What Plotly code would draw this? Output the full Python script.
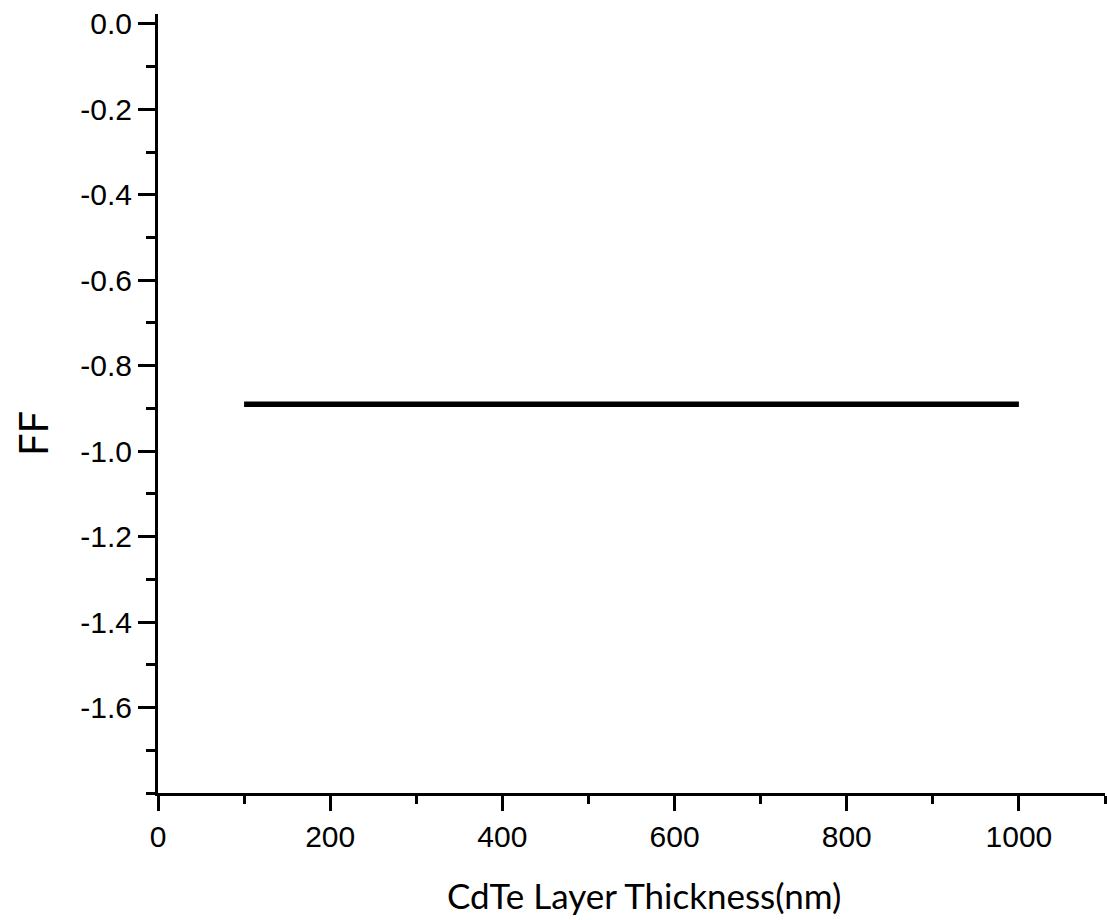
import plotly.graph_objects as go

# CdTe absorber thickness sweep (nm) and resulting fill factor
thickness_nm = [100, 200, 300, 400, 500, 600, 700, 800, 900, 1000]
fill_factor = [-0.89, -0.89, -0.89, -0.89, -0.89, -0.89, -0.89, -0.89, -0.89, -0.89]

x_tick_vals = [0, 200, 400, 600, 800, 1000]
x_tick_text = ["0", "200", "400", "600", "800", "1000"]
y_tick_vals = [0.0, -0.2, -0.4, -0.6, -0.8, -1.0, -1.2, -1.4, -1.6]
y_tick_text = ["0.0", "-0.2", "-0.4", "-0.6", "-0.8", "-1.0", "-1.2", "-1.4", "-1.6"]

fig = go.Figure()
fig.add_trace(go.Scatter(
    x=thickness_nm, y=fill_factor, mode="lines",
    line=dict(color="black", width=5.5),
    showlegend=False,
))

tick_font = dict(family="Liberation Sans, Arial, sans-serif", size=30, color="black")
title_family = "Lato, Open Sans, sans-serif"

fig.update_layout(
    width=1107, height=920,
    margin=dict(l=158, r=2, t=14, b=127),
    paper_bgcolor="white", plot_bgcolor="white",
    xaxis=dict(
        range=[0, 1100],
        tickmode="array", tickvals=x_tick_vals, ticktext=x_tick_text,
        ticks="outside", ticklen=15, tickwidth=3, tickcolor="black",
        minor=dict(dtick=100, tick0=0, ticks="outside", ticklen=8, tickwidth=3, tickcolor="black", showgrid=False),
        showline=True, linewidth=3, linecolor="black",
        showgrid=False, zeroline=False,
        tickfont=tick_font,
    ),
    yaxis=dict(
        range=[-1.8, 0.023],
        tickmode="array", tickvals=y_tick_vals, ticktext=y_tick_text,
        ticks="outside", ticklen=17, tickwidth=3, tickcolor="black",
        minor=dict(dtick=0.1, tick0=0, ticks="outside", ticklen=9, tickwidth=3, tickcolor="black", showgrid=False),
        showline=True, linewidth=3, linecolor="black",
        showgrid=False, zeroline=False,
        tickfont=tick_font,
    ),
    annotations=[
        dict(text="CdTe Layer Thickness(nm)", xref="paper", yref="paper",
             x=(644 - 158) / (1105 - 158), y=-(895 - 793) / (793 - 14),
             xanchor="center", yanchor="middle", showarrow=False,
             font=dict(family=title_family, size=35, color="black")),
        dict(text="FF", xref="paper", yref="paper",
             x=-(158 - 33) / (1105 - 158), y=(793 - 434) / (793 - 14),
             xanchor="center", yanchor="middle", showarrow=False, textangle=-90,
             font=dict(family=title_family, size=40, color="black")),
    ],
)

fig.write_html("out.html")
